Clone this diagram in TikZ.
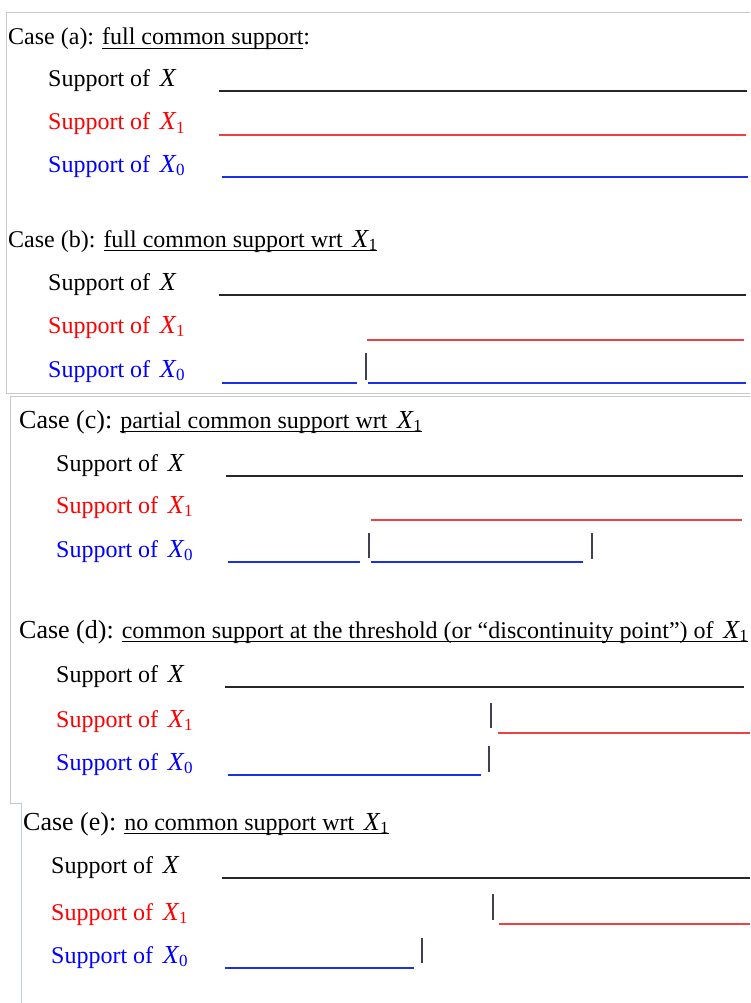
\documentclass[tikz,border=0pt]{standalone}
\usepackage{fontspec}
\setmainfont{Liberation Serif}
\usepackage{xcolor}
\usetikzlibrary{positioning}

\definecolor{lred}{RGB}{238,64,64}
\definecolor{lblue}{RGB}{28,48,232}
\definecolor{tickgray}{RGB}{64,64,84}
\definecolor{framegray}{RGB}{200,200,200}
\definecolor{frameblue}{RGB}{190,205,220}

\newcommand{\Xv}{{\fontsize{26}{28}\selectfont\textit{X}}}
\newcommand{\Xs}[1]{\Xv\kern-0.5pt\raisebox{-3.5pt}{\fontsize{17}{17}\selectfont #1}}
\newcommand{\uln}[1]{\underline{\smash{#1}\vrule width 0pt depth 2pt}}

\begin{document}
\begin{tikzpicture}[
    x=1pt, y=-1pt,
    head/.style={anchor=base west, inner sep=0pt, font=\fontsize{24}{28}\selectfont},
    lbl/.style={anchor=base west, inner sep=0pt, font=\fontsize{24}{28}\selectfont},
    supx/.style={line width=1.9pt, black!85},
    supone/.style={line width=1.4pt, lred},
    supzero/.style={line width=2pt, lblue},
    cut/.style={line width=1.3pt, tickgray},
    frame/.style={line width=1pt, framegray}
]
\useasboundingbox (0,0) rectangle (750,1003);

% Cadres
\draw[frame] (750,12.5) -- (6.5,12.5) -- (6.5,393.5) -- (750,393.5);
\draw[frame] (750,396.5) -- (10.5,396.5) -- (10.5,803) -- (21,803);
\draw[line width=1pt, frameblue] (21,803) -- (21,1003);

% Cas (a)
\node[head] (caseA) at (8,45) {Case (a): \uln{full common support}:};
\node[lbl] (xA) at (48,87) {Support of\hspace{0.4em}\Xv};
\node[lbl, red] (xoneA) at (48,130) {Support of\hspace{0.4em}\Xs{1}};
\node[lbl, blue] (xzeroA) at (48,172) {Support of\hspace{0.4em}\Xs{0}};
\draw[supx] (219,91) -- (747,91);
\draw[supone] (219,135) -- (746,135);
\draw[supzero] (222,177.5) -- (748,177.5);

% Cas (b)
\node[head] (caseB) at (8,247) {Case (b): \uln{full common support wrt\hspace{0.4em}\Xs{1}}};
\node[lbl] (xB) at (48,290) {Support of\hspace{0.4em}\Xv};
\node[lbl, red] (xoneB) at (48,333) {Support of\hspace{0.4em}\Xs{1}};
\node[lbl, blue] (xzeroB) at (48,377) {Support of\hspace{0.4em}\Xs{0}};
\draw[supx] (219,295) -- (746,295);
\draw[supone] (367,340) -- (744,340);
\draw[supzero] (222,383) -- (357,383);
\draw[cut] (366,353) -- (366,380);
\draw[supzero] (368,383) -- (746,383);

% Cas (c)
\node[head] (caseC) at (19,428) {{\fontsize{26}{30}\selectfont Case (c):} \uln{partial common support wrt\hspace{0.4em}\Xs{1}}};
\node[lbl] (xC) at (56,471) {Support of\hspace{0.4em}\Xv};
\node[lbl, red] (xoneC) at (56,513) {Support of\hspace{0.4em}\Xs{1}};
\node[lbl, blue] (xzeroC) at (56,557) {Support of\hspace{0.4em}\Xs{0}};
\draw[supx] (226,476) -- (743,476);
\draw[supone] (371,520) -- (742,520);
\draw[supzero] (228,562) -- (360,562);
\draw[cut] (369,533) -- (369,558);
\draw[supzero] (371,562) -- (583,562);
\draw[cut] (592,533) -- (592,559);

% Cas (d)
\node[head] (caseD) at (19,638) {{\fontsize{26}{30}\selectfont Case (d):} \uln{common support at the threshold (or “discontinuity point”) of\hspace{0.4em}\Xs{1}}};
\node[lbl] (xD) at (56,682) {Support of\hspace{0.4em}\Xv};
\node[lbl, red] (xoneD) at (56,727) {Support of\hspace{0.4em}\Xs{1}};
\node[lbl, blue] (xzeroD) at (56,770) {Support of\hspace{0.4em}\Xs{0}};
\draw[supx] (225,687) -- (744,687);
\draw[cut] (491,703) -- (491,728);
\draw[supone] (498,733) -- (750,733);
\draw[supzero] (228,775) -- (481,775);
\draw[cut] (489,746) -- (489,772);

% Cas (e)
\node[head] (caseE) at (23,830) {{\fontsize{26}{30}\selectfont Case (e):} \uln{no common support wrt\hspace{0.4em}\Xs{1}}};
\node[lbl] (xE) at (51,873) {Support of\hspace{0.4em}\Xv};
\node[lbl, red] (xoneE) at (51,920) {Support of\hspace{0.4em}\Xs{1}};
\node[lbl, blue] (xzeroE) at (51,963) {Support of\hspace{0.4em}\Xs{0}};
\draw[supx] (222,878) -- (750,878);
\draw[cut] (493,894) -- (493,920);
\draw[supone] (499,924) -- (750,924);
\draw[supzero] (225,968) -- (414,968);
\draw[cut] (422,938) -- (422,963);
\end{tikzpicture}
\end{document}
